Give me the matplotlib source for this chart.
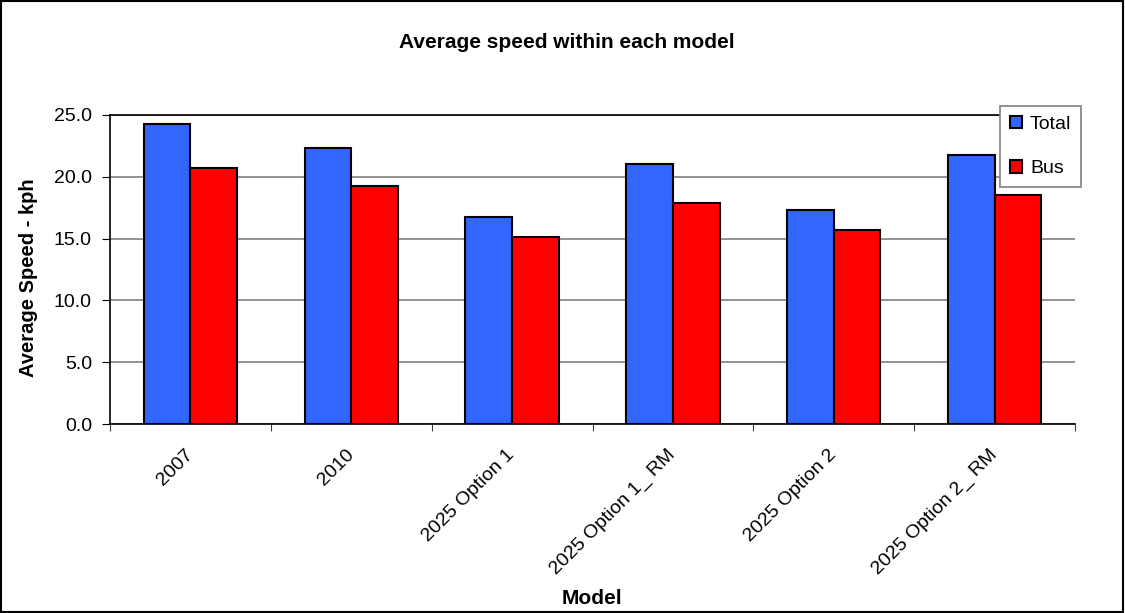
import numpy as np
import matplotlib.pyplot as plt
from matplotlib.patches import Rectangle
from matplotlib.transforms import ScaledTranslation

plt.rcParams['font.family'] = ['Liberation Sans', 'DejaVu Sans']

# Average speed per model run (kph)
models = ['2007', '2010', '2025 Option 1', '2025 Option 1_ RM',
          '2025 Option 2', '2025 Option 2_ RM']
total = [24.25, 22.35, 16.75, 21.0, 17.35, 21.75]
bus = [20.7, 19.25, 15.15, 17.9, 15.7, 18.5]

fig = plt.figure(figsize=(11.25, 6.13), dpi=100)
ax = fig.add_axes([0.0978, 0.3083, 0.8578, 0.5041])

x = np.arange(len(models))
w = 1 / 3.45
ax.bar(x - w / 2, total, w, color='#3366ff', edgecolor='black', linewidth=1.5,
       label='Total', zorder=3)
ax.bar(x + w / 2, bus, w, color='#ff0000', edgecolor='black', linewidth=1.5,
       label='Bus', zorder=3)

ax.set_xlim(-0.5, len(models) - 0.5)
ax.set_ylim(0, 25)
yt = np.arange(0, 25.1, 5)
ax.set_yticks(yt)
ax.set_yticklabels([f'{v:.1f}' for v in yt], fontsize=14)
ax.yaxis.grid(True, color='#808080', linewidth=1.2, zorder=0)

# category ticks sit between groups, labels at group centres
ax.set_xticks(np.arange(-0.5, len(models)))
ax.set_xticklabels([])
ax.set_xticks(x, minor=True)
ax.set_xticklabels(models, minor=True, rotation=45, ha='right', va='center',
                   rotation_mode='anchor', fontsize=14)
shift = ScaledTranslation(-12 / 100, 0, fig.dpi_scale_trans)
for lab in ax.get_xticklabels(minor=True):
    lab.set_transform(lab.get_transform() + shift)
ax.tick_params(axis='x', which='minor', length=0, pad=20)
ax.tick_params(axis='x', which='major', length=5, direction='out', color='#404040')
ax.tick_params(axis='y', length=6, direction='out', pad=7)

ax.spines['right'].set_visible(False)
for s in ['left', 'bottom', 'top']:
    ax.spines[s].set_color('black')
    ax.spines[s].set_linewidth(1.2)

fig.text(0.504, 0.930, 'Average speed within each model', ha='center',
         va='center', fontsize=15, fontweight='bold')
fig.text(0.526, 0.023, 'Model', ha='center', va='center', fontsize=15,
         fontweight='bold')
fig.text(0.025, 0.5465, 'Average Speed - kph', ha='center', va='center',
         rotation=90, fontsize=14.5, fontweight='bold')

leg = fig.legend(loc='upper right', bbox_to_anchor=(0.961, 0.827),
                 fontsize=14, frameon=True, fancybox=False, edgecolor='#808080',
                 framealpha=1, handlelength=0.62, handleheight=0.62,
                 handletextpad=0.4, labelspacing=1.4, borderpad=0.5,
                 borderaxespad=0)
leg.get_frame().set_linewidth(1.2)

# outer chart border
fig.add_artist(Rectangle((0.001, 0.002), 0.997, 0.996, transform=fig.transFigure,
                         fill=False, edgecolor='black', linewidth=1.5))

fig.savefig('out.png', dpi=100)
